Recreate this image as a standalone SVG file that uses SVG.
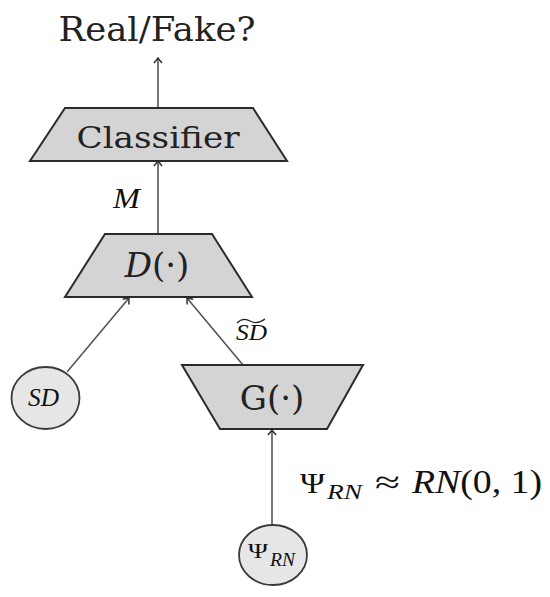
<svg xmlns="http://www.w3.org/2000/svg" width="550" height="597" viewBox="0 0 550 597">
<defs>
<marker id="ah" viewBox="0 0 10 10" refX="9" refY="5" markerWidth="10" markerHeight="10" markerUnits="userSpaceOnUse" orient="auto">
<path d="M4,1 L9,5 L4,9" fill="none" stroke="#333" stroke-width="1.5"/>
</marker>
<style>
.trap{fill:#d4d4d4;stroke:#2b2b2b;stroke-width:2}
.circ{fill:#e6e6e6;stroke:#3a3a3a;stroke-width:1.8}
.conn{fill:none;stroke:#555;stroke-width:1.6;marker-end:url(#ah)}
.serif{font-family:"DejaVu Serif","Liberation Serif",serif;fill:#222}
.math{font-family:"Liberation Serif","DejaVu Serif",serif;fill:#111}
</style>
</defs>
<rect width="550" height="597" fill="#ffffff"/>
<text class="serif" x="157" y="41" font-size="34" text-anchor="middle" textLength="197" lengthAdjust="spacingAndGlyphs">Real/Fake?</text>
<g id="connectors">
<line class="conn" x1="158" y1="108" x2="158" y2="58"/>
<line class="conn" x1="158" y1="234" x2="158" y2="161"/>
<line class="conn" x1="67" y1="372" x2="129" y2="298"/>
<line class="conn" x1="243" y1="365" x2="187" y2="298"/>
<line class="conn" x1="272" y1="525" x2="272" y2="430"/>
</g>
<text class="math" x="113" y="208" font-size="29" font-style="italic" textLength="27" lengthAdjust="spacingAndGlyphs">M</text>
<text class="math" x="236" y="340" font-size="23" font-style="italic" textLength="31" lengthAdjust="spacingAndGlyphs">SD</text>
<path d="M237,323 Q243,317 250,321 T265,319" fill="none" stroke="#222" stroke-width="1.3"/>
<g id="classifier">
<polygon class="trap" points="65,108 253,108 287,161 30,161"/>
<text class="serif" x="158" y="148" font-size="29" text-anchor="middle" textLength="163" lengthAdjust="spacingAndGlyphs">Classifier</text>
</g>
<g id="discriminator">
<polygon class="trap" points="105,234 212,234 252,297 65,297"/>
<text class="serif" x="157" y="277" font-size="34" text-anchor="middle"><tspan font-style="italic">D</tspan>(·)</text>
</g>
<g id="generator">
<polygon class="trap" points="182,365 363,365 327,429 220,429"/>
<text class="serif" x="272" y="410" font-size="34" text-anchor="middle">G(·)</text>
</g>
<g id="sd">
<ellipse class="circ" cx="45.5" cy="398" rx="34" ry="31"/>
<text class="math" x="28" y="406" font-size="25" font-style="italic" textLength="31" lengthAdjust="spacingAndGlyphs">SD</text>
</g>
<g id="psi">
<ellipse class="circ" cx="273" cy="555" rx="34" ry="30"/>
<text class="math" font-size="22"><tspan x="248" y="558" textLength="20" lengthAdjust="spacingAndGlyphs">Ψ</tspan><tspan x="270" y="566" font-style="italic" font-size="18" textLength="25" lengthAdjust="spacingAndGlyphs">RN</tspan></text>
</g>
<text class="math" font-size="30"><tspan x="300" y="493" textLength="25" lengthAdjust="spacingAndGlyphs">Ψ</tspan><tspan x="327" y="499" font-style="italic" font-size="21" textLength="35" lengthAdjust="spacingAndGlyphs">RN</tspan><tspan x="375" y="493" font-size="32" textLength="25" lengthAdjust="spacingAndGlyphs">≈</tspan><tspan x="412" y="493" font-size="33" textLength="130" lengthAdjust="spacingAndGlyphs"><tspan font-style="italic">RN</tspan>(0, 1)</tspan></text>
</svg>
